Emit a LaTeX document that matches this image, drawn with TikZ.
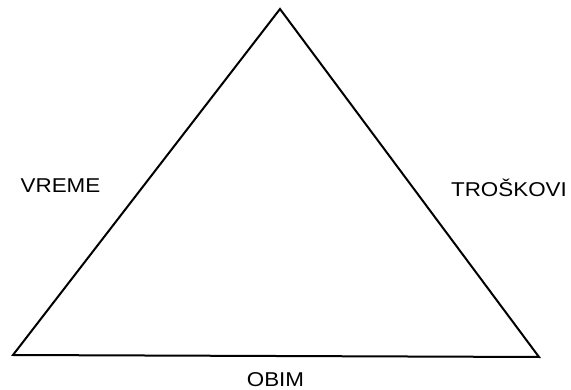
\documentclass[tikz,border=0pt]{standalone}
\usepackage{fontspec}
\setmainfont{Liberation Sans}
\usepackage{graphicx}
\begin{document}
\begin{tikzpicture}[x=1pt,y=-1pt,
  side/.style={line width=2pt,line join=miter},
  lbl/.style={inner sep=0pt,font=\fontsize{20}{24}\selectfont}]
\useasboundingbox[fill=white] (0,0) rectangle (571,390);
\coordinate (top) at (280,9);
\coordinate (bl) at (13,355);
\coordinate (br) at (539,357);
\draw[side] (top) -- (br) -- (bl) -- cycle;
\node[lbl] (vreme) at (60.5,186) {\scalebox{1.12}[1]{VREME}};
\node[lbl] (troskovi) at (509,187.5) {\scalebox{1.12}[1]{TROŠKOVI}};
\node[lbl] (obim) at (275.5,379.5) {\scalebox{1.12}[1]{OBIM}};
\end{tikzpicture}
\end{document}
